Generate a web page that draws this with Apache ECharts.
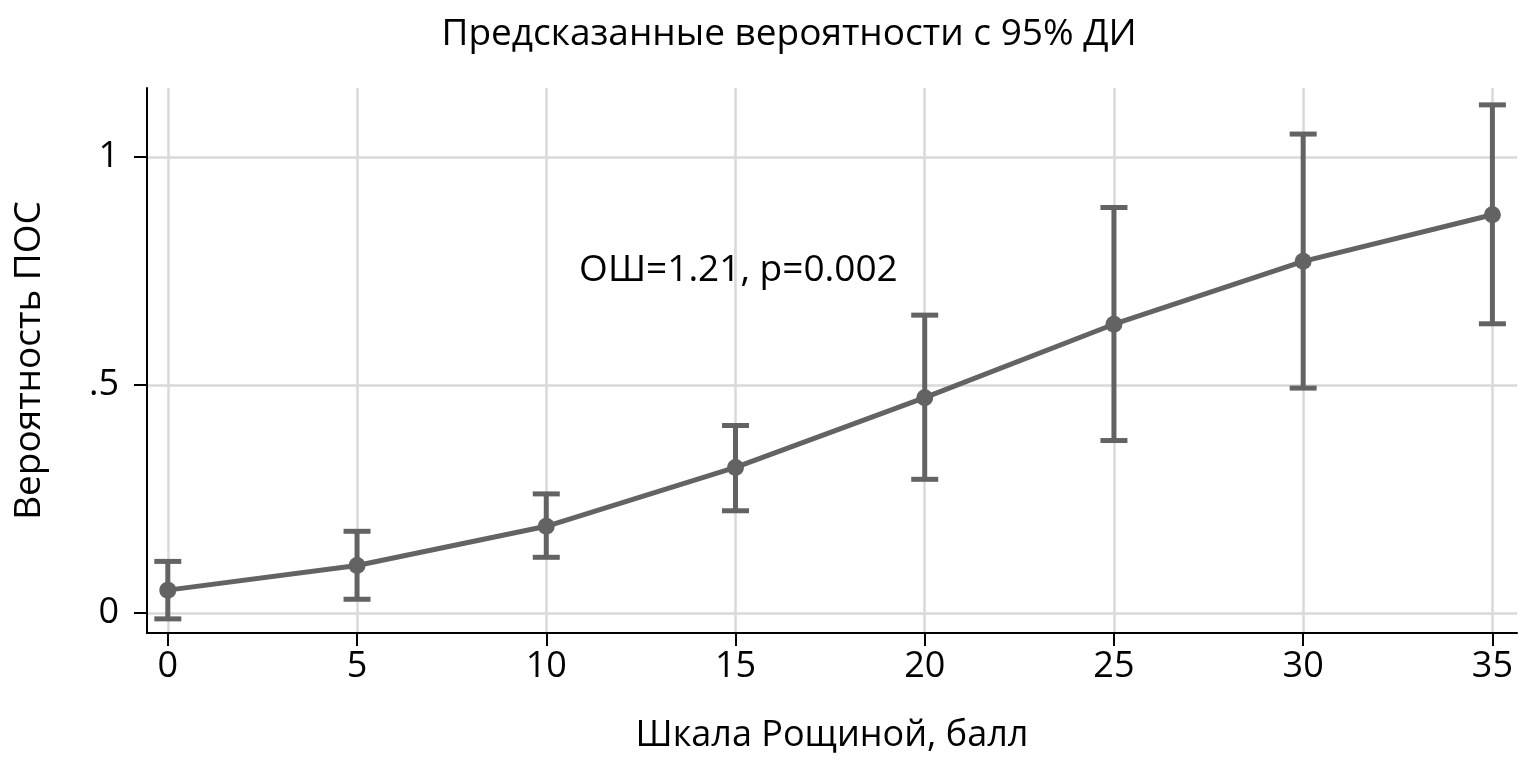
<!DOCTYPE html>
<html>
<head>
<meta charset="utf-8">
<script src="https://cdn.jsdelivr.net/npm/echarts@6/dist/echarts.min.js"></script>
<style>
  html, body { margin: 0; padding: 0; background: #fff; }
  #chart { width: 1522px; height: 762px; }
</style>
</head>
<body>
<div id="chart"></div>
<script>
// значения шкалы Рощиной и предсказанные вероятности ПОС
let scoreValues = [0, 5, 10, 15, 20, 25, 30, 35];
let probValues = [0.050, 0.104, 0.190, 0.319, 0.472, 0.633, 0.771, 0.873];
let ciLower = [-0.013, 0.030, 0.122, 0.224, 0.293, 0.378, 0.493, 0.634];
let ciUpper = [0.113, 0.179, 0.261, 0.411, 0.653, 0.889, 1.050, 1.114];
let xTicks = [0, 5, 10, 15, 20, 25, 30, 35];
let yTicks = [0, 0.5, 1];
let yTickLabels = ['0', '.5', '1'];
let noteText = 'ОШ=1.21, p=0.002';
let notePos = [11, 0.75];

let ProbChart = (function () {
    let chart = echarts.init(document.getElementById('chart'));
    let font = '"Open Sans", "Noto Sans", sans-serif';
    let gray = '#636363';

    let _init = function () {
        let lineData = scoreValues.map((x, i) => [x, probValues[i]]);
        let ciData = scoreValues.map((x, i) => [x, ciLower[i], ciUpper[i]]);
        chart.setOption(build_option(lineData, ciData));
    };

    let render_ci = function (params, api) {
        let lo = api.coord([api.value(0), api.value(1)]);
        let hi = api.coord([api.value(0), api.value(2)]);
        let half = 13.5;
        let style = {stroke: gray, lineWidth: 5, fill: null};
        return {
            type: 'group',
            children: [
                {type: 'line', shape: {x1: lo[0], y1: lo[1], x2: hi[0], y2: hi[1]}, style: style},
                {type: 'line', shape: {x1: lo[0] - half, y1: lo[1], x2: lo[0] + half, y2: lo[1]}, style: style},
                {type: 'line', shape: {x1: hi[0] - half, y1: hi[1], x2: hi[0] + half, y2: hi[1]}, style: style}
            ]
        };
    };

    let build_option = function (lineData, ciData) {
        return {
            animation: false,
            textStyle: {fontFamily: font},
            title: {
                text: 'Предсказанные вероятности с 95% ДИ',
                left: 784,
                top: 11,
                textAlign: 'center',
                textStyle: {fontFamily: font, fontSize: 37, fontWeight: 'normal', color: '#000'}
            },
            grid: {left: 147, right: 5, top: 88, bottom: 129},
            xAxis: {
                type: 'value',
                min: -0.55,
                max: 35.65,
                name: 'Шкала Рощиной, балл',
                nameLocation: 'middle',
                nameGap: 85,
                nameTextStyle: {fontFamily: font, fontSize: 36, color: '#000'},
                axisLine: {show: true, onZero: false, lineStyle: {color: '#000', width: 2}},
                axisTick: {show: true, length: 13, lineStyle: {color: '#000', width: 2}, customValues: xTicks},
                axisLabel: {fontFamily: font, fontSize: 36, color: '#000', margin: 16, customValues: xTicks},
                splitLine: {show: true, lineStyle: {color: '#d9d9d9', width: 2.5}}
            },
            yAxis: {
                type: 'value',
                min: -0.044,
                max: 1.151,
                name: 'Вероятность ПОС',
                nameLocation: 'middle',
                nameGap: 99,
                nameTextStyle: {fontFamily: font, fontSize: 37, color: '#000'},
                axisLine: {show: true, onZero: false, lineStyle: {color: '#000', width: 2}},
                axisTick: {show: true, length: 13, lineStyle: {color: '#000', width: 2}, customValues: yTicks},
                axisLabel: {
                    fontFamily: font, fontSize: 36, color: '#000', margin: 28, customValues: yTicks,
                    formatter: function (v) {
                        let i = yTicks.indexOf(v);
                        return i >= 0 ? yTickLabels[i] : '';
                    }
                },
                splitLine: {show: true, lineStyle: {color: '#d9d9d9', width: 2.5}}
            },
            series: [
                {
                    type: 'custom',
                    renderItem: render_ci,
                    data: ciData,
                    z: 2
                },
                {
                    type: 'line',
                    data: lineData,
                    symbol: 'circle',
                    symbolSize: 17,
                    itemStyle: {color: gray},
                    lineStyle: {color: gray, width: 5},
                    z: 3,
                    markPoint: {
                        symbol: 'circle',
                        symbolSize: 0,
                        data: [{coord: notePos}],
                        label: {
                            show: true,
                            position: 'right',
                            distance: 0,
                            offset: [-5, 0],
                            formatter: noteText,
                            fontFamily: font,
                            fontSize: 37,
                            color: '#000'
                        }
                    }
                }
            ]
        };
    };

    return {
        init: _init
    };
})();
ProbChart.init();
</script>
</body>
</html>
